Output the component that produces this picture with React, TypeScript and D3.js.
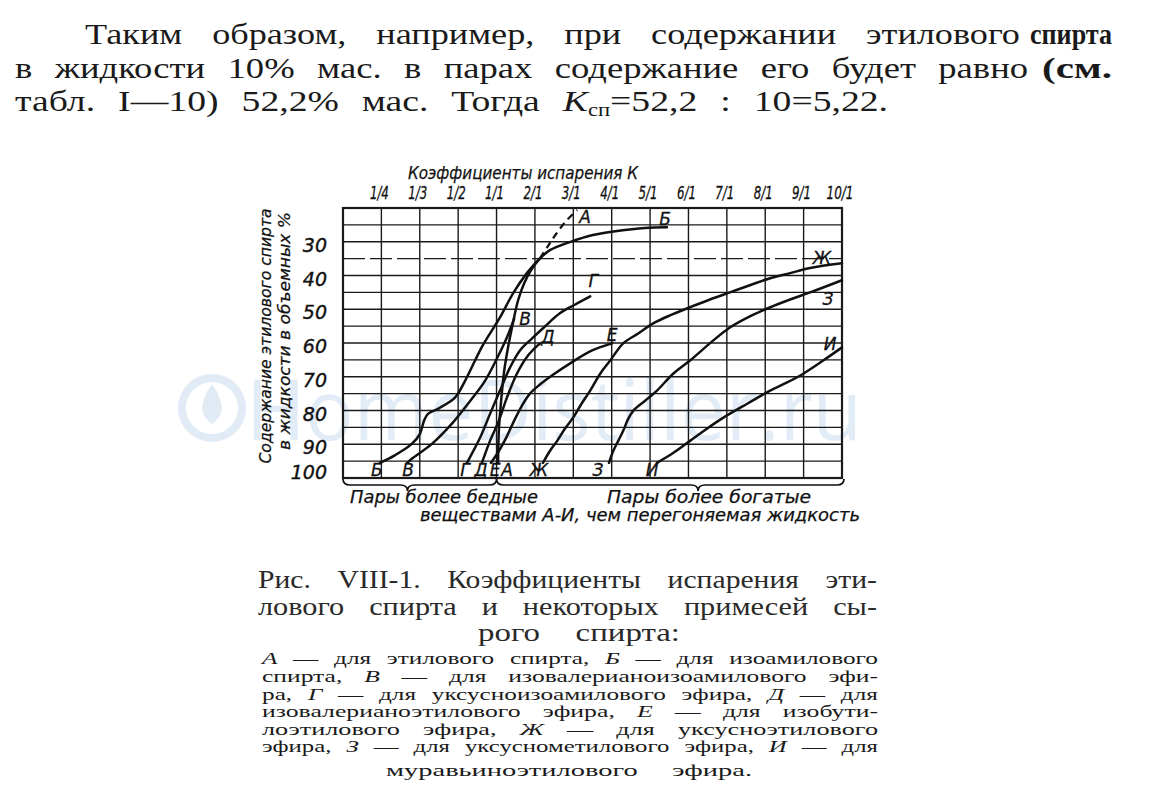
import React, { useLayoutEffect, useRef } from "react";
import * as d3 from "d3";

const W = 1153;
const H = 798;

// ---- axis data ----
const K_TICKS = [0.2, 0.25, 1 / 3, 0.5, 1, 2, 3, 4, 5, 6, 7, 8, 9, 10];
const K_LABELS = ["", "1/4", "1/3", "1/2", "1/1", "2/1", "3/1", "4/1", "5/1", "6/1", "7/1", "8/1", "9/1", "10/1"];
const PCT_LABELS = [30, 40, 50, 60, 70, 80, 90, 100];
const PCT_GRID = [20, 25, 30, 35, 40, 45, 50, 55, 60, 65, 70, 75, 80, 85, 90, 95, 100];
const PCT_DASHED = [35];

// ---- series: [evaporation coefficient K, ethanol in liquid, % vol] ----
const curveA: [number, number][] = [
  [1.04, 95.5], [1.06, 86.0], [1.12, 77.1], [1.2, 68.2], [1.3, 61.3], [1.43, 53.9],
  [1.56, 47.4], [1.72, 42.3], [1.9, 38.4], [2.13, 34.9],
];
const curveADashed: [number, number][] = [
  [2.13, 34.9], [2.34, 31.3], [2.55, 27.7], [2.81, 23.9], [3.1, 20.6],
];
const curveB: [number, number][] = [
  [0.248, 95.5], [0.28, 93.2], [0.316, 89.9], [0.334, 86.9], [0.352, 83.0], [0.369, 81.0],
  [0.412, 79.5], [0.486, 76.2], [0.59, 71.2], [0.72, 65.2], [0.82, 60.7], [1.09, 52.4],
  [1.43, 45.3], [1.79, 39.3], [2.08, 35.5], [2.39, 32.5], [2.91, 30.1], [3.51, 28.0],
  [4.14, 26.8], [4.87, 25.9], [5.44, 25.7],
];
const curveV: [number, number][] = [
  [0.306, 95.5], [0.316, 94.3], [0.386, 89.9], [0.473, 83.9], [0.628, 78.0], [0.85, 71.2],
  [1.01, 64.6], [1.27, 58.4], [1.46, 52.7],
];
const curveG: [number, number][] = [
  [0.615, 95.5], [0.785, 88.1], [0.915, 81.0], [1.09, 74.1], [1.35, 67.3], [1.61, 62.2],
  [1.92, 58.7], [2.26, 55.1], [2.65, 51.2], [3.05, 48.6], [3.44, 46.2],
];
const curveD: [number, number][] = [
  [0.81, 95.5], [0.915, 89.0], [1.06, 83.0], [1.27, 76.2], [1.53, 69.1], [1.82, 63.7], [2.13, 60.1],
];
const curveE: [number, number][] = [
  [0.928, 95.5], [1.06, 92.0], [1.25, 88.1], [1.46, 83.0], [1.66, 78.6], [1.87, 75.0],
  [2.13, 72.3], [2.47, 69.4], [2.99, 65.5], [3.49, 62.2], [4.01, 60.1],
];
const curveZh: [number, number][] = [
  [2.21, 95.5], [2.39, 92.0], [2.58, 89.0], [2.78, 85.4], [2.99, 82.2], [3.23, 77.7],
  [3.44, 74.1], [3.7, 69.1], [3.96, 65.2], [4.3, 60.1], [4.69, 57.2], [5.08, 54.2],
  [5.52, 51.8], [6.04, 49.4], [6.56, 47.1], [7.08, 45.0], [7.6, 42.9], [8.13, 40.8],
  [8.65, 39.3], [9.17, 37.8], [10, 36.4],
];
const curveZ: [number, number][] = [
  [3.93, 95.5], [4.04, 92.0], [4.17, 89.0], [4.3, 86.0], [4.43, 82.5], [4.56, 80.1],
  [4.87, 77.1], [5.18, 74.1], [5.6, 69.1], [6.04, 65.2], [6.64, 59.3], [7.08, 55.4],
  [7.6, 52.1], [8.13, 49.4], [8.65, 47.1], [9.17, 45.0], [10, 41.4],
];
const curveI: [number, number][] = [
  [5.18, 95.5], [5.6, 92.6], [6.04, 89.0], [6.48, 85.4], [6.9, 82.2], [7.53, 78.0],
  [8.13, 74.1], [8.57, 71.7], [8.99, 69.1], [9.51, 65.2], [10, 61.3],
];

const SERIES_NAMES = ["А", "Б", "В", "Г", "Д", "Е", "Ж", "З", "И"];
const SERIES_DATA = [curveA, curveB, curveV, curveG, curveD, curveE, curveZh, curveZ, curveI];

// label offsets (px) relative to first / last point of each curve
const END_LABEL_OFFSET: Record<string, [number, number]> = {
  "А": [8, 7], "Б": [-2, -8], "В": [11, 1], "Г": [3, -15], "Д": [8, -6],
  "Е": [0, -8], "Ж": [-20, -5], "З": [-14, 19], "И": [-12, -3],
};
const START_LABEL_DX: Record<string, number> = {
  "А": 9, "Б": -3, "В": 1, "Г": -2, "Д": -1, "Е": 4, "Ж": -4, "З": -11, "И": -5,
};

const SERIF = "'Liberation Serif', 'DejaVu Serif', serif";
const HAND = "'DejaVu Sans', 'Liberation Sans', sans-serif";

type JProps = {
  x: number; y: number; width: number; size: number; family?: string;
  anchor?: "start" | "middle" | "end"; fill?: string; weight?: string | number;
  children: React.ReactNode; italic?: boolean; transform?: string; wsFrac?: number;
  adjust?: "spacing" | "spacingAndGlyphs";
};

// justified text: part of the slack goes to word gaps, the rest to letters/glyphs
function JText({ x, y, width, size, family = SERIF, anchor = "start", fill = "#1a1a1a", weight, italic, transform, wsFrac = 0.35, adjust = "spacingAndGlyphs", children }: JProps) {
  const ref = useRef<SVGTextElement>(null);
  useLayoutEffect(() => {
    const fit = () => {
      const el = ref.current;
      if (!el) return;
      el.style.wordSpacing = "0px";
      el.removeAttribute("textLength");
      el.removeAttribute("lengthAdjust");
      const len = el.getComputedTextLength();
      const spaces = (el.textContent || "").split(" ").length - 1;
      const extra = width - len;
      if (extra > 0 && spaces > 0) el.style.wordSpacing = `${(extra * wsFrac) / spaces}px`;
      el.setAttribute("textLength", String(width));
      el.setAttribute("lengthAdjust", extra > 0 ? adjust : "spacingAndGlyphs");
    };
    fit();
    const f = (document as any).fonts;
    if (f && f.ready) f.ready.then(fit);
  }, [width, wsFrac, adjust]);
  return (
    <text
      ref={ref}
      x={x}
      y={y}
      fontSize={size}
      fontFamily={family}
      textAnchor={anchor}
      fill={fill}
      fontWeight={weight}
      fontStyle={italic ? "italic" : undefined}
      transform={transform}
    >
      {children}
    </text>
  );
}

function FitText({ x, y, width, size, family = HAND, anchor = "start", italic = true, fill = "#111", transform, children }: JProps) {
  return (
    <text
      x={x}
      y={y}
      fontSize={size}
      fontFamily={family}
      fontStyle={italic ? "italic" : undefined}
      textAnchor={anchor}
      fill={fill}
      stroke={fill}
      strokeWidth={0.25}
      textLength={width}
      lengthAdjust="spacingAndGlyphs"
      transform={transform}
    >
      {children}
    </text>
  );
}

const I = ({ children }: { children: React.ReactNode }) => <tspan fontStyle="italic">{children}</tspan>;

export default function App() {
  const plot = { left: 343, right: 842, top: 208, bottom: 478 };
  const step = (plot.right - plot.left) / (K_TICKS.length - 1);
  const x = d3.scaleLinear().domain(K_TICKS).range(K_TICKS.map((_, i) => plot.left + i * step));
  const y = d3.scaleLinear().domain([20, 100]).range([plot.top, plot.bottom]);
  const line = d3
    .line<[number, number]>()
    .x((d) => x(d[0]))
    .y((d) => y(d[1]))
    .curve(d3.curveCatmullRom.alpha(0.5));

  // braces under the plot
  const brace = (x0: number, x1: number, frac: number, yTop: number, yMid: number, yTip: number) => {
    const c = x0 + (x1 - x0) * frac;
    const p = d3.path();
    p.moveTo(x0, yTop);
    p.quadraticCurveTo(x0, yMid, x0 + 7, yMid);
    p.lineTo(c - 7, yMid);
    p.quadraticCurveTo(c, yMid, c, yTip);
    p.quadraticCurveTo(c, yMid, c + 7, yMid);
    p.lineTo(x1 - 7, yMid);
    p.quadraticCurveTo(x1, yMid, x1, yTop);
    return p.toString();
  };
  const xSplit = x(1);

  return (
    <svg
      width={W}
      height={H}
      viewBox={`0 0 ${W} ${H}`}
      style={{ position: "absolute", left: 0, top: 0, display: "block", background: "#fff" }}
    >
      <rect x={0} y={0} width={W} height={H} fill="#fff" />

      {/* watermark */}
      <g>
        <circle cx={212} cy={408} r={30} fill="none" stroke="#e0ebf6" strokeWidth={8} />
        <path d="M212 384 C 200 402, 198 414, 212 424 C 226 414, 224 402, 212 384 Z" fill="#e0ebf6" />
        <text x={246} y={440} fontSize={84} fontFamily="'Open Sans', sans-serif" fill="#e2ecf6"
          textLength={616} lengthAdjust="spacingAndGlyphs">HomeDistiller.ru</text>
      </g>

      {/* paragraph above the figure */}
      <JText x={85} y={44} width={935} size={30}>Таким образом, например, при содержании этилового</JText>
      <JText x={1030} y={44} width={82} size={30} weight="bold">спирта</JText>
      <JText x={15} y={78} width={1013} size={30}>в жидкости 10% мас. в парах содержание его будет равно</JText>
      <JText x={1042} y={78} width={70} size={30} weight="bold">(см.</JText>
      <JText x={15} y={111} width={873} size={30} wsFrac={0.3}>
        табл. I—10) 52,2% мас. Тогда <tspan fontStyle="italic">K</tspan>
        <tspan fontSize={18} dy={5}>сп</tspan>
        <tspan dy={-5}>=52,2 : 10=5,22.</tspan>
      </JText>

      {/* grid */}
      <g stroke="#1a1a1a" strokeWidth={1.4} fill="none">
        {K_TICKS.map((k, i) => (
          <line key={`v${i}`} x1={x(k)} x2={x(k)} y1={plot.top} y2={plot.bottom} />
        ))}
        {PCT_GRID.map((p) => (
          <line
            key={`h${p}`}
            x1={plot.left}
            x2={plot.right}
            y1={y(p)}
            y2={y(p)}
            strokeDasharray={PCT_DASHED.includes(p) ? "22 5" : undefined}
          />
        ))}
        <rect x={plot.left} y={plot.top} width={plot.right - plot.left} height={plot.bottom - plot.top} strokeWidth={2.2} />
      </g>

      {/* top axis */}
      <FitText x={408} y={179} width={230} size={17}>Коэффициенты испарения К</FitText>
      {K_TICKS.map((k, i) =>
        K_LABELS[i] ? (
          <text key={`kl${i}`} x={x(k) - 2} y={199} fontSize={17} fontFamily={HAND} fontStyle="italic"
            textAnchor="middle" fill="#111" stroke="#111" strokeWidth={0.3}
            textLength={i === 13 ? 27 : 19} lengthAdjust="spacingAndGlyphs">{K_LABELS[i]}</text>
        ) : null
      )}

      {/* left axis */}
      {PCT_LABELS.map((p) => (
        <text key={`pl${p}`} x={327} y={Math.min(y(p) + 3, plot.bottom - 6)} dominantBaseline="central"
          fontSize={19} fontFamily={HAND} fontStyle="italic" textAnchor="end" fill="#111"
          stroke="#111" strokeWidth={0.4}>{p}</text>
      ))}
      <FitText x={0} y={0} width={255} size={16} anchor="middle" transform="translate(271,336) rotate(-90)">
        Содержание этилового спирта
      </FitText>
      <FitText x={0} y={0} width={238} size={16} anchor="middle" transform="translate(290,331) rotate(-90)">
        в жидкости в объемных %
      </FitText>

      {/* curves */}
      <g fill="none" stroke="#111" strokeWidth={2.5} strokeLinecap="round" strokeLinejoin="round">
        {SERIES_DATA.map((d, i) => (
          <path key={`c${i}`} d={line(d) || ""} />
        ))}
        <path d={line(curveADashed) || ""} strokeDasharray="7 5" strokeWidth={2.2} strokeLinecap="butt" />
      </g>

      {/* curve labels */}
      {SERIES_NAMES.map((name, i) => {
        const d = SERIES_DATA[i];
        const last = name === "А" ? curveADashed[curveADashed.length - 1] : d[d.length - 1];
        const [dx, dy] = END_LABEL_OFFSET[name];
        return (
          <g key={`lab${i}`} fontFamily={HAND} fontStyle="italic" fontSize={17} fill="#111" stroke="#111"
            strokeWidth={0.3} textAnchor="middle">
            <text x={x(last[0]) + dx} y={y(last[1]) + dy} dominantBaseline="central">{name}</text>
            <text x={x(d[0][0]) + START_LABEL_DX[name]} y={plot.bottom - 2}>{name}</text>
          </g>
        );
      })}

      {/* braces */}
      <g fill="none" stroke="#111" strokeWidth={1.7}>
        <path d={brace(plot.left, xSplit, 0.42, plot.bottom + 1, plot.bottom + 7, plot.bottom + 13)} />
        <path d={brace(xSplit, plot.right + 2, 0.58, plot.bottom + 1, plot.bottom + 7, plot.bottom + 13)} />
      </g>
      <FitText x={350} y={503} width={188} size={17}>Пары более бедные</FitText>
      <FitText x={607} y={503} width={204} size={17}>Пары более богатые</FitText>
      <FitText x={420} y={521} width={440} size={17}>веществами А-И, чем перегоняемая жидкость</FitText>

      {/* caption */}
      <JText x={258} y={588} width={619} size={25} fill="#2a2a2a" wsFrac={0.4}>Рис. VIII-1. Коэффициенты испарения эти-</JText>
      <JText x={258} y={615} width={619} size={25} fill="#2a2a2a" wsFrac={0.4}>лового спирта и некоторых примесей сы-</JText>
      <JText x={478} y={641} width={202} size={25} fill="#2a2a2a" wsFrac={0.3}>рого спирта:</JText>

      <JText x={262} y={664} width={616} size={17} wsFrac={0.2}><I>А</I> — для этилового спирта, <I>Б</I> — для изоамилового</JText>
      <JText x={262} y={682} width={616} size={17} wsFrac={0.2}>спирта, <I>В</I> — для изовалерианоизоамилового эфи-</JText>
      <JText x={262} y={700} width={616} size={17} wsFrac={0.2}>ра, <I>Г</I> — для уксусноизоамилового эфира, <I>Д</I> — для</JText>
      <JText x={262} y={717} width={616} size={17} wsFrac={0.2}>изовалерианоэтилового эфира, <I>Е</I> — для изобути-</JText>
      <JText x={262} y={735} width={616} size={17} wsFrac={0.2}>лоэтилового эфира, <I>Ж</I> — для уксусноэтилового</JText>
      <JText x={262} y={752} width={616} size={17} wsFrac={0.2}>эфира, <I>З</I> — для уксуснометилового эфира, <I>И</I> — для</JText>
      <JText x={386} y={776} width={366} size={17} wsFrac={0.1}>муравьиноэтилового эфира.</JText>
    </svg>
  );
}
